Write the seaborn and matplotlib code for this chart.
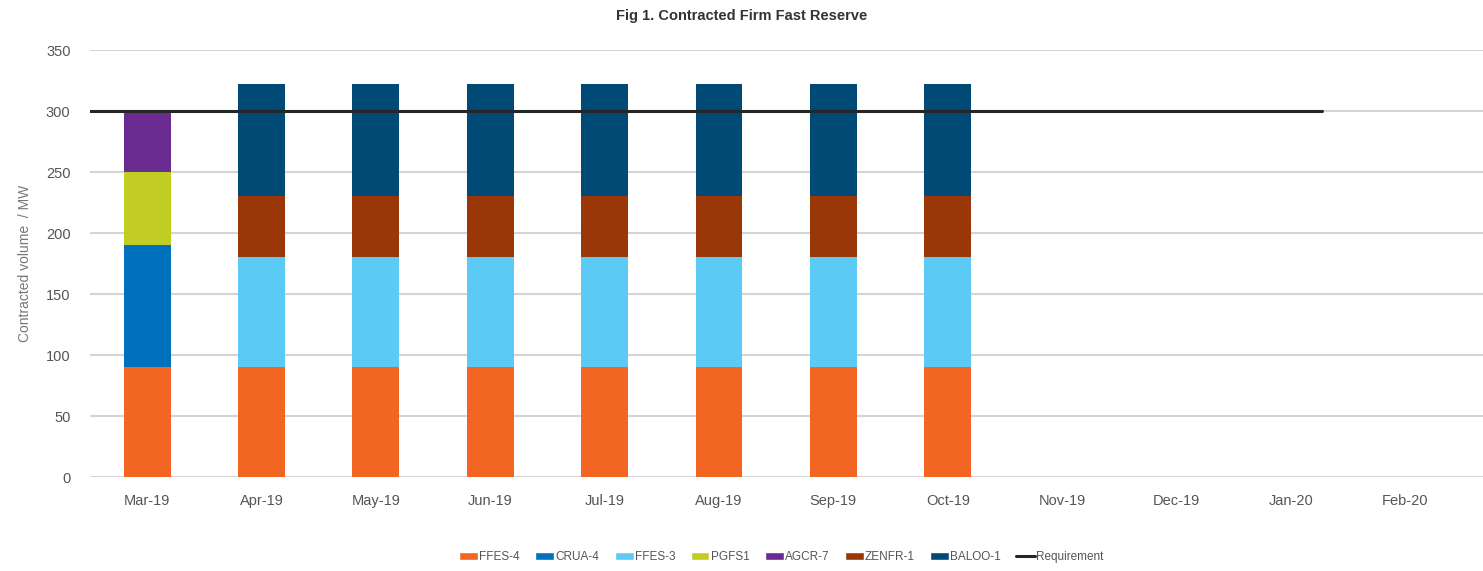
import numpy as np
import pandas as pd
import matplotlib.pyplot as plt
import seaborn as sns
from matplotlib.patches import Patch
from matplotlib.lines import Line2D

# Data
months = ["Mar-19", "Apr-19", "May-19", "Jun-19", "Jul-19", "Aug-19",
          "Sep-19", "Oct-19", "Nov-19", "Dec-19", "Jan-20", "Feb-20"]
ffes4 = [90, 90, 90, 90, 90, 90, 90, 90, 0, 0, 0, 0]
crua4 = [100, 0, 0, 0, 0, 0, 0, 0, 0, 0, 0, 0]
ffes3 = [0, 90, 90, 90, 90, 90, 90, 90, 0, 0, 0, 0]
pgfs1 = [60, 0, 0, 0, 0, 0, 0, 0, 0, 0, 0, 0]
agcr7 = [50, 0, 0, 0, 0, 0, 0, 0, 0, 0, 0, 0]
zenfr1 = [0, 50, 50, 50, 50, 50, 50, 50, 0, 0, 0, 0]
baloo1 = [0, 92, 92, 92, 92, 92, 92, 92, 0, 0, 0, 0]
requirement = [300] * 11 + [np.nan]

units = {"FFES-4": ffes4, "CRUA-4": crua4, "FFES-3": ffes3, "PGFS1": pgfs1,
         "AGCR-7": agcr7, "ZENFR-1": zenfr1, "BALOO-1": baloo1}
colors = {"FFES-4": "#F26522", "CRUA-4": "#0071BC", "FFES-3": "#5BCBF5",
          "PGFS1": "#C2CD23", "AGCR-7": "#6A2C91", "ZENFR-1": "#9A3708",
          "BALOO-1": "#004A75"}

sns.set_style("white")
plt.rcParams["font.family"] = ["Liberation Sans Narrow", "Liberation Sans", "DejaVu Sans"]

fig = plt.figure(figsize=(14.83, 5.71), dpi=100)
ax = fig.add_axes([0.0607, 0.1646, 0.9393, 0.7478])

# Stacked bars
bottom = np.zeros(len(months))
for name, vals in units.items():
    df = pd.DataFrame({"Month": months, "MW": vals})
    sns.barplot(data=df, x="Month", y="MW", order=months, color=colors[name],
                width=0.41, bottom=bottom, ax=ax, saturation=1, errorbar=None,
                linewidth=0, zorder=3)
    bottom = bottom + np.array(vals)

# Requirement line (spans from the axis edge to just past its last month)
req = np.array(requirement, dtype=float)
valid = np.where(~np.isnan(req))[0]
ax.plot([valid[0] - 0.5, valid[-1] + 0.27], [req[valid[0]], req[valid[-1]]],
        color="#262626", linewidth=2.2, zorder=4)

ax.set_xlim(-0.5, 11.68)
ax.set_ylim(0, 350)
ax.set_yticks(range(0, 351, 50))
ax.yaxis.grid(True, color="#D4D4D4", linewidth=1.5, zorder=0)
ax.set_axisbelow(True)
for s in ax.spines.values():
    s.set_visible(False)
ax.tick_params(axis="both", length=0, labelsize=10.5, colors="#555555")
ax.tick_params(axis="x", pad=12)
ax.tick_params(axis="y", pad=14)
ax.set_xlabel("")
ax.set_ylabel("Contracted volume  / MW", fontsize=10, color="#777777", labelpad=10)

fig.suptitle("Fig 1. Contracted Firm Fast Reserve", fontsize=10.5, color="#333333",
             fontweight="bold", x=0.5, y=0.985)

handles = [Patch(facecolor=c, label=n) for n, c in colors.items()]
handles.append(Line2D([0], [0], color="#262626", linewidth=2.2, label="Requirement"))
fig.legend(handles=handles, loc="lower center", bbox_to_anchor=(0.527, -0.005),
           ncol=8, frameon=False, fontsize=8.5, handlelength=1.6, handleheight=0.6,
           handletextpad=0.1, columnspacing=1.3, labelcolor="#555555")

fig.savefig("out.png", dpi=100)
